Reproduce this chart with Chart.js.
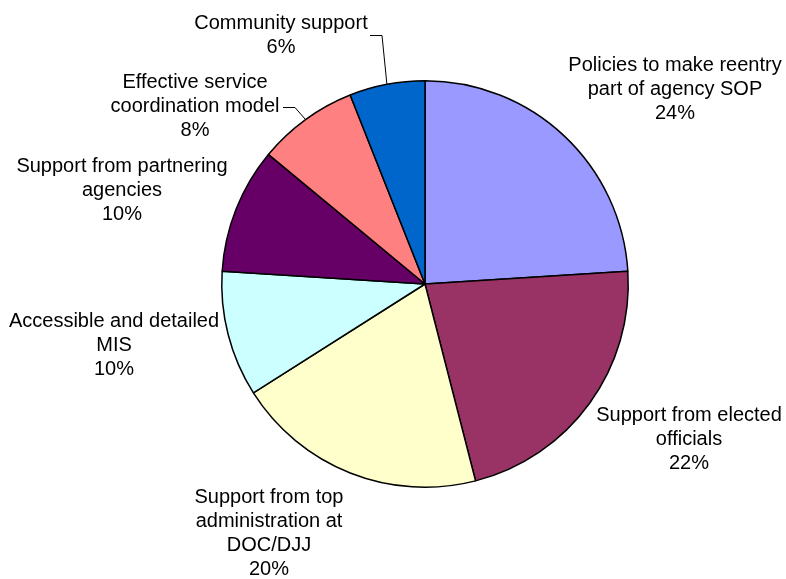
<!DOCTYPE html>
<html>
<head>
<meta charset="utf-8">
<script src="https://cdn.jsdelivr.net/npm/chart.js@4"></script>
<style>
  html, body { margin: 0; padding: 0; background: #fff; }
  #wrap { width: 786px; height: 579px; position: relative; }
</style>
</head>
<body>
<div id="wrap"><canvas id="pieChart"></canvas></div>
<script>
const categories = [
  ['Policies to make reentry', 'part of agency SOP'],
  ['Support from elected', 'officials'],
  ['Support from top', 'administration at', 'DOC/DJJ'],
  ['Accessible and detailed', 'MIS'],
  ['Support from partnering', 'agencies'],
  ['Effective service', 'coordination model'],
  ['Community support']
];
const shares = [24, 22, 20, 10, 10, 8, 6];
const sliceColors = ['#9999FF', '#993366', '#FFFFCC', '#CCFFFF', '#660066', '#FF8080', '#0066CC'];

// label centres (first line) and optional leader elbows
const labelSpots = [
  { x: 675, y: 65 },
  { x: 689, y: 415 },
  { x: 269, y: 497 },
  { x: 114, y: 321 },
  { x: 122, y: 166 },
  { x: 195, y: 82, leader: [[283, 107], [295, 107]] },
  { x: 281, y: 23, leader: [[370, 35], [382, 35]] }
];
const lineHeight = 24.3;

const labelPlugin = {
  id: 'sliceLabels',
  afterDatasetsDraw(chart) {
    const ctx = chart.ctx;
    const meta = chart.getDatasetMeta(0);
    ctx.save();
    ctx.font = '20px "Liberation Sans", Arial, sans-serif';
    ctx.fillStyle = '#000';
    ctx.textAlign = 'center';
    ctx.textBaseline = 'middle';
    meta.data.forEach((arc, i) => {
      const spot = labelSpots[i];
      const lines = chart.data.labels[i].concat([chart.data.datasets[0].data[i] + '%']);
      lines.forEach((t, k) => ctx.fillText(t, spot.x, spot.y + k * lineHeight));
      if (spot.leader) {
        const mid = (arc.startAngle + arc.endAngle) / 2;
        const ex = arc.x + Math.cos(mid) * arc.outerRadius;
        const ey = arc.y + Math.sin(mid) * arc.outerRadius;
        ctx.beginPath();
        ctx.strokeStyle = '#000';
        ctx.lineWidth = 1;
        ctx.moveTo(spot.leader[0][0], spot.leader[0][1] + 0.5);
        ctx.lineTo(spot.leader[1][0], spot.leader[1][1] + 0.5);
        ctx.lineTo(ex, ey);
        ctx.stroke();
      }
    });
    ctx.restore();
  }
};

new Chart(document.getElementById('pieChart'), {
  type: 'pie',
  data: {
    labels: categories,
    datasets: [{
      data: shares,
      backgroundColor: sliceColors,
      borderColor: '#000',
      borderWidth: 1.5
    }]
  },
  options: {
    responsive: true,
    maintainAspectRatio: false,
    animation: false,
    layout: { padding: { top: 80, bottom: 91, left: 221, right: 157 } },
    plugins: {
      legend: { display: false },
      tooltip: { enabled: false }
    }
  },
  plugins: [labelPlugin]
});
</script>
</body>
</html>
